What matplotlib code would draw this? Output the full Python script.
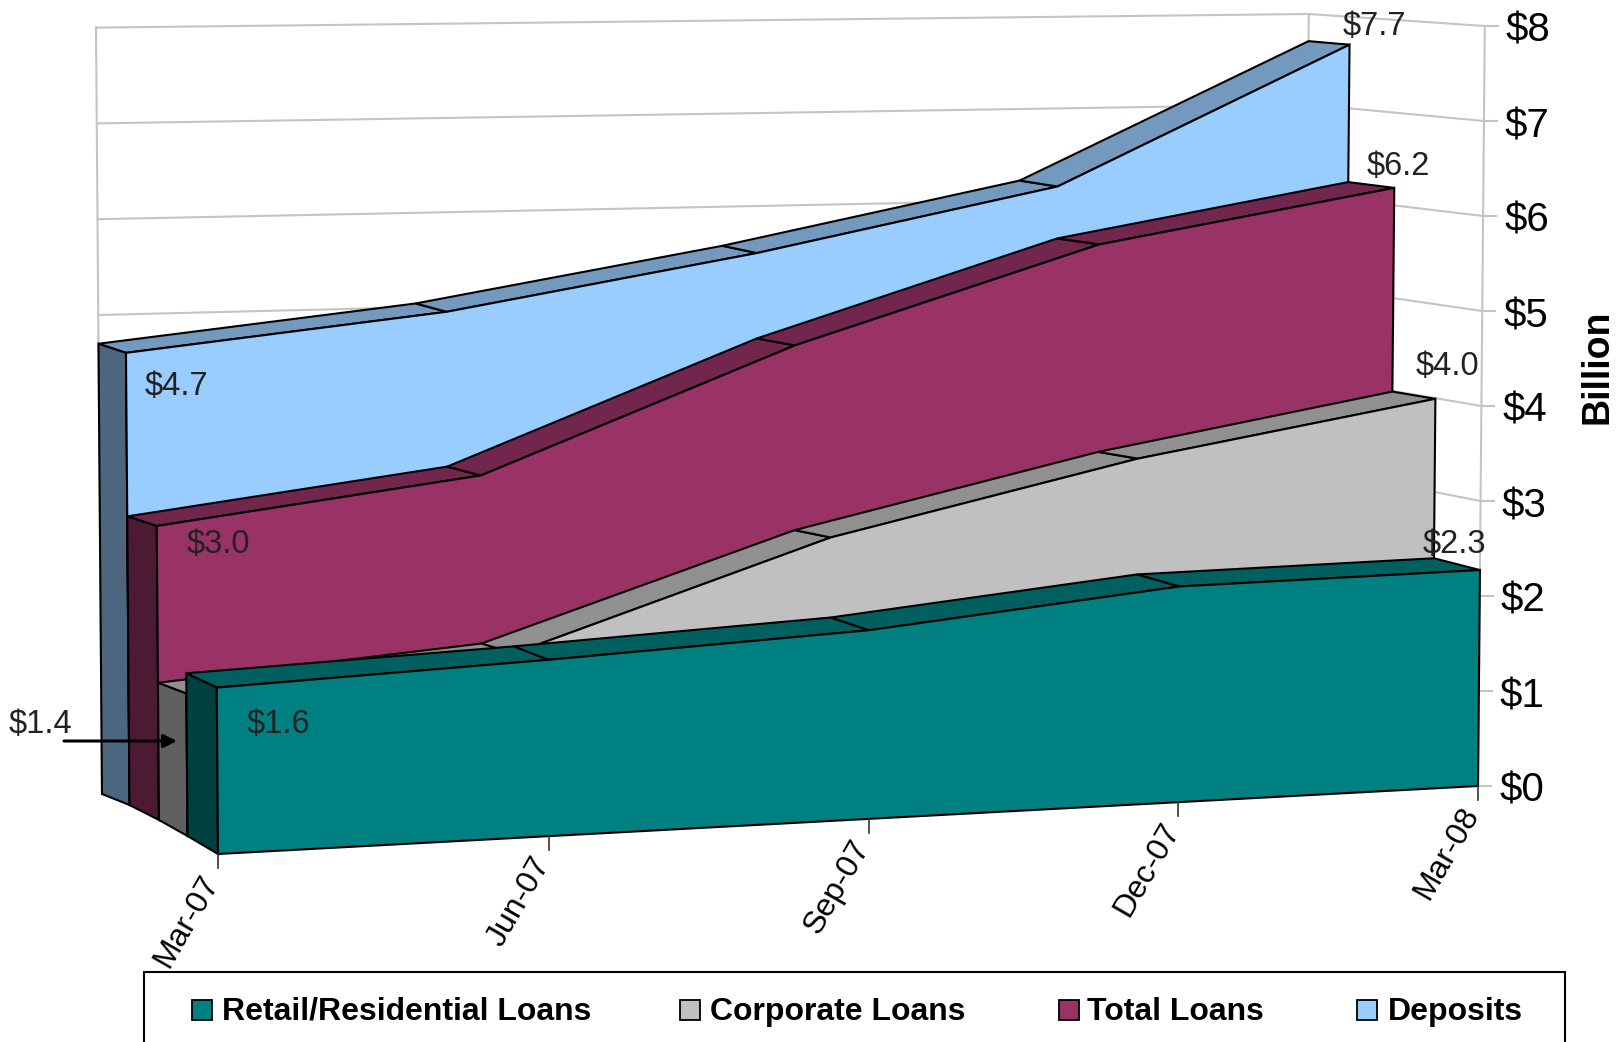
import numpy as np
from matplotlib import pyplot as plt
from matplotlib.patches import Polygon, Rectangle

plt.rcParams['font.family'] = ['Liberation Sans', 'DejaVu Sans']

# datos del grafico ($ billion, trimestre a trimestre)
quarters = ['Mar-07', 'Jun-07', 'Sep-07', 'Dec-07', 'Mar-08']
retail = [1.6, 1.74, 1.91, 2.24, 2.3]
corporate = [1.4, 1.67, 2.73, 3.45, 4.0]
total_loans = [3.0, 3.41, 4.67, 5.66, 6.2]
deposits = [4.7, 5.04, 5.58, 6.22, 7.7]
y_ticks = [0, 1, 2, 3, 4, 5, 6, 7, 8]
series_names = ['Retail/Residential Loans', 'Corporate Loans', 'Total Loans', 'Deposits']

colors = ['#008080', '#C0C0C0', '#993366', '#99CCFF']

# calibration of the 3D box, one entry per depth plane (0 = front, 4 = back wall)
X_LEFT = [218, 187.5, 159, 129.5, 102]
X_RIGHT = [1478, 1432, 1389, 1343, 1302]
FLOOR_LEFT = [854, 836, 820, 805, 794]
FLOOR_RIGHT = [786, 774, 762, 750, 738]
UNIT_LEFT = [104, 101.7, 98, 96.2, 95.8]
UNIT_RIGHT = [93.9, 93.8, 92.6, 91.6, 90.5]
PERSP = 0.01724
# the value axis on the right runs a little taller than the front face
AXIS_UNIT = 95


def project(q, d, v):
    # quarter index, depth plane and value to canvas position
    t = q * (1 + 4 * PERSP) / (4 * (1 + PERSP * q))
    x = X_LEFT[d] + (X_RIGHT[d] - X_LEFT[d]) * t
    floor = FLOOR_LEFT[d] + (FLOOR_RIGHT[d] - FLOOR_LEFT[d]) * t
    unit = UNIT_LEFT[d] + (UNIT_RIGHT[d] - UNIT_LEFT[d]) * t
    return x + v * (-0.75 + 1.6 * t), floor - unit * v


def axis_point(v):
    x, _ = project(len(quarters) - 1, 0, v)
    return x, FLOOR_RIGHT[0] - AXIS_UNIT * v


def shade(color, k):
    rgb = np.array(plt.matplotlib.colors.to_rgb(color))
    return tuple(rgb * k)


def draw_area(ax, values, d, color):
    n = len(values)
    front_top = [project(q, d, values[q]) for q in range(n)]
    back_top = [project(q, d + 1, values[q]) for q in range(n)]

    # top ribbon, one quad between each pair of quarters
    for q in range(n - 1):
        quad = [back_top[q], back_top[q + 1], front_top[q + 1], front_top[q]]
        ax.add_patch(Polygon(quad, facecolor=shade(color, 0.75), edgecolor='black', lw=1.5))

    # left end cap
    cap = [back_top[0], front_top[0], project(0, d, 0), project(0, d + 1, 0)]
    ax.add_patch(Polygon(cap, facecolor=shade(color, 0.5), edgecolor='black', lw=1.5))

    # front face
    front = front_top + [project(n - 1, d, 0), project(0, d, 0)]
    ax.add_patch(Polygon(front, facecolor=color, edgecolor='black', lw=1.5))


fig = plt.figure(figsize=(16.23, 10.42), dpi=100)
ax = fig.add_axes([0, 0, 1, 1])
ax.set_xlim(0, 1623)
ax.set_ylim(1042, 0)
ax.axis('off')

last = len(quarters) - 1
GRID = '#C4C4C4'

# back wall and side wall gridlines
for v in y_ticks:
    x0, y0 = project(0, 4, v)
    x1, y1 = project(last, 4, v)
    x2, y2 = axis_point(v)
    ax.plot([x0, x1, x2], [y0, y1, y2], color=GRID, lw=1.5, zorder=0)
    ax.plot([x2, x2 + 13], [y2, y2], color=GRID, lw=1.5, zorder=0)
    ax.text(x2 + 21, y2 + 5, f'${v}', fontsize=29, ha='left', va='center', color='black')

for q in [0, last]:
    x0, y0 = project(q, 4, 0)
    x1, y1 = project(q, 4, 8)
    ax.plot([x0, x1], [y0, y1], color=GRID, lw=1.5, zorder=0)
ax.plot(*zip(axis_point(0), axis_point(8)), color=GRID, lw=1.5, zorder=0)

# the areas, back to front
draw_area(ax, deposits, 3, colors[3])
draw_area(ax, total_loans, 2, colors[2])
draw_area(ax, corporate, 1, colors[1])
draw_area(ax, retail, 0, colors[0])

# category ticks and labels
for q, name in enumerate(quarters):
    x, y = project(q, 0, 0)
    ax.plot([x, x], [y, y + 14], color='#333333', lw=1.2)
    ax.text(x - 5.5, y + 23, name, fontsize=23, rotation=60, rotation_mode='anchor',
            ha='right', va='center', color='black')

ax.text(1597, 367, 'Billion', fontsize=27, fontweight='bold', rotation=90,
        ha='center', va='center', color='black')

# value labels for first and last quarter
first_labels = [(retail[0], 278, 725), (corporate[0], 41, 725),
                (total_loans[0], 218, 544), (deposits[0], 176, 386)]
last_labels = [(retail[-1], 1454, 544), (corporate[-1], 1447, 367),
               (total_loans[-1], 1398, 167), (deposits[-1], 1374, 27)]
for v, x, y in first_labels + last_labels:
    ax.text(x, y, f'${v:.1f}', fontsize=23.5, ha='center', va='center', color='#222222')

ax.annotate('', xy=(177, 741), xytext=(64, 741),
            arrowprops=dict(arrowstyle='-|>,head_length=0.8,head_width=0.4', color='black',
                            lw=2.2, shrinkA=0, shrinkB=0))

# legend box runs off the bottom of the canvas
ax.add_patch(Rectangle((144, 972), 1421, 120, facecolor='white', edgecolor='black', lw=1.5))
swatch_x = [192, 680, 1059, 1357]
text_x = [221.5, 710, 1087, 1388]
for name, color, sx, tx in zip(series_names, colors, swatch_x, text_x):
    ax.add_patch(Rectangle((sx, 1000), 20, 20, facecolor=color, edgecolor='black', lw=1.3))
    ax.text(tx, 1012, name, fontsize=23, fontweight='bold', ha='left', va='center', color='black')

fig.savefig('out.png', dpi=100)
